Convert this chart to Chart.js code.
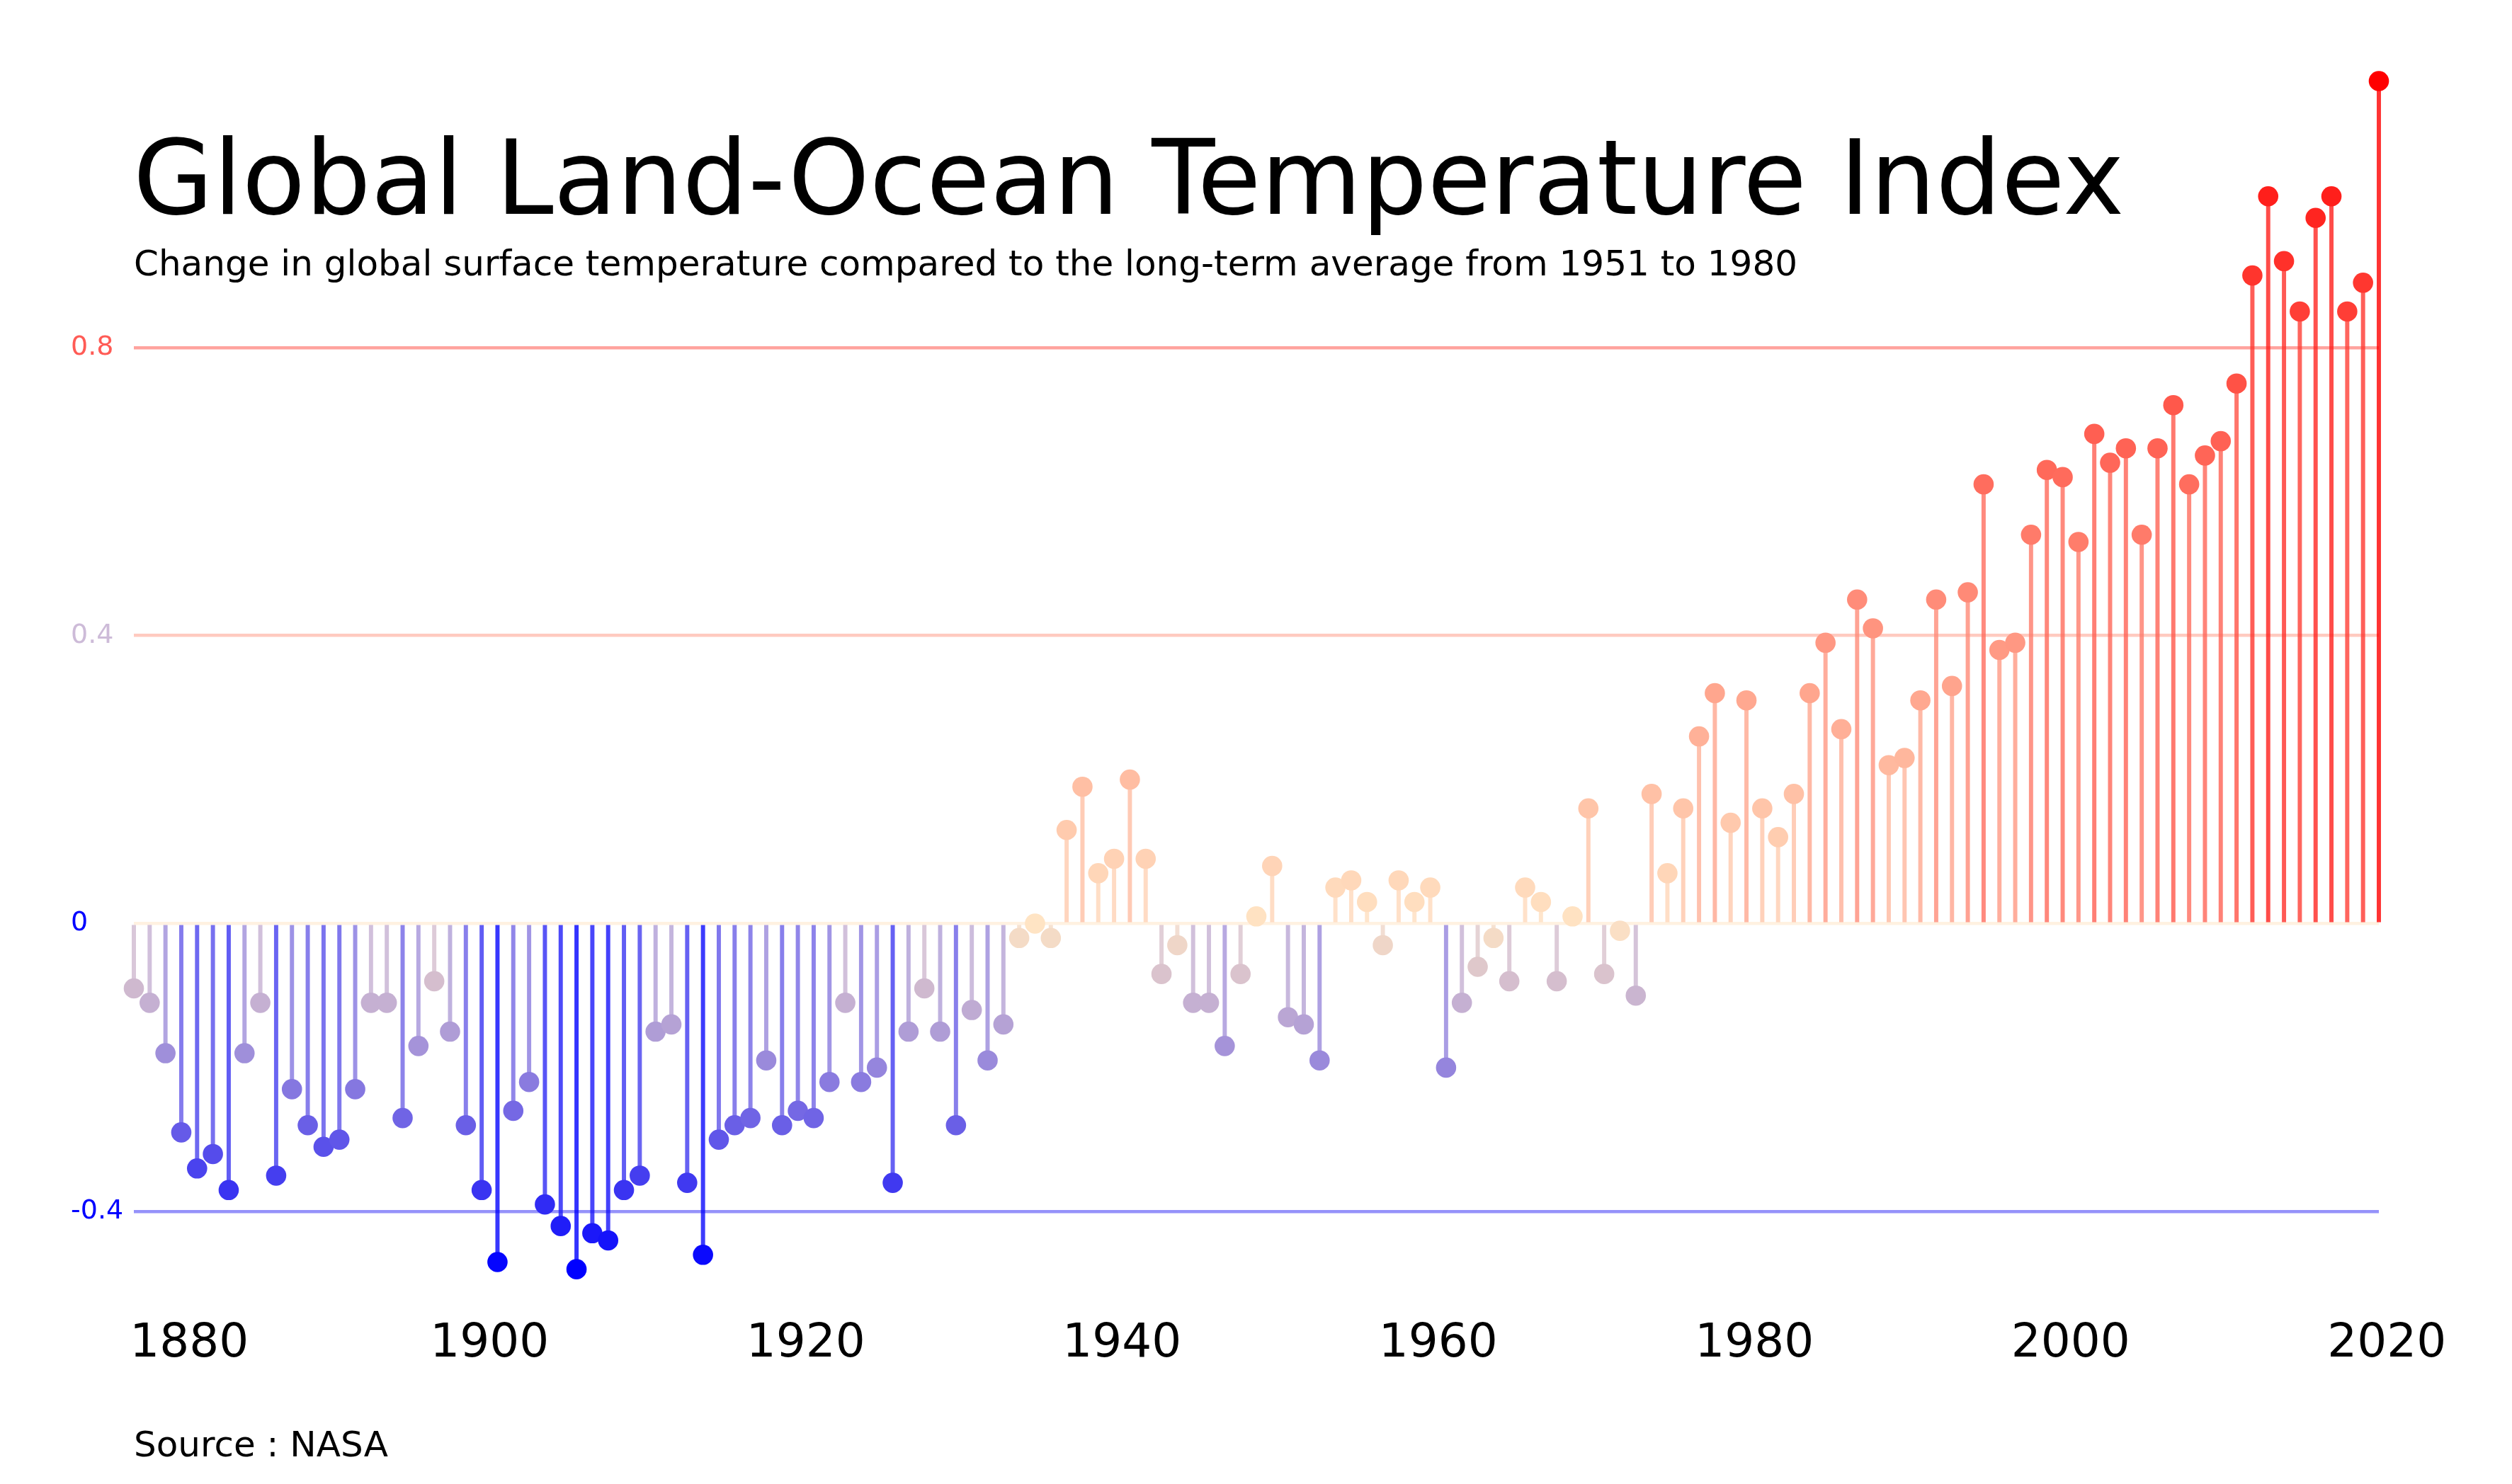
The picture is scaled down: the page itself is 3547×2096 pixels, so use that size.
<!DOCTYPE html>
<html>
<head>
<meta charset="utf-8">
<title>Global Land-Ocean Temperature Index</title>
<script src="https://cdn.jsdelivr.net/npm/chart.js@4.4.1/dist/chart.umd.min.js"></script>
<style>
  html, body { margin: 0; padding: 0; background: #fff; overflow: hidden; }
  #wrap { position: relative; width: 3547px; height: 2096px; font-family: 'DejaVu Sans', sans-serif; }
  #chart { position: absolute; left: 0; top: 0; }
  .txt { position: absolute; white-space: nowrap; line-height: 1; color: #000; }
  #title { left: 188px; top: 178px; font-size: 146px; }
  #subtitle { left: 189px; top: 347px; font-size: 50px; }
  #source { left: 189px; top: 2015px; font-size: 50px; }
</style>
</head>
<body>
<div id="wrap">
  <canvas id="chart" width="3547" height="2096"></canvas>
  <div class="txt" id="title">Global Land-Ocean Temperature Index</div>
  <div class="txt" id="subtitle">Change in global surface temperature compared to the long-term average from 1951 to 1980</div>
  <div class="txt" id="source">Source : NASA</div>
</div>
<script>
// Annual anomaly (°C), 1881 to 2023
const firstYear = 1881;
const anomalies = [
  -0.09, -0.11, -0.18, -0.29, -0.34, -0.32, -0.37, -0.18, -0.11, -0.35,
  -0.23, -0.28, -0.31, -0.30, -0.23, -0.11, -0.11, -0.27, -0.17, -0.08,
  -0.15, -0.28, -0.37, -0.47, -0.26, -0.22, -0.39, -0.42, -0.48, -0.43,
  -0.44, -0.37, -0.35, -0.15, -0.14, -0.36, -0.46, -0.30, -0.28, -0.27,
  -0.19, -0.28, -0.26, -0.27, -0.22, -0.11, -0.22, -0.20, -0.36, -0.15,
  -0.09, -0.15, -0.28, -0.12, -0.19, -0.14, -0.02, 0.00, -0.02, 0.13,
  0.19, 0.07, 0.09, 0.20, 0.09, -0.07, -0.03, -0.11, -0.11, -0.17,
  -0.07, 0.01, 0.08, -0.13, -0.14, -0.19, 0.05, 0.06, 0.03, -0.03,
  0.06, 0.03, 0.05, -0.20, -0.11, -0.06, -0.02, -0.08, 0.05, 0.03,
  -0.08, 0.01, 0.16, -0.07, -0.01, -0.10, 0.18, 0.07, 0.16, 0.26,
  0.32, 0.14, 0.31, 0.16, 0.12, 0.18, 0.32, 0.39, 0.27, 0.45,
  0.41, 0.22, 0.23, 0.31, 0.45, 0.33, 0.46, 0.61, 0.38, 0.39,
  0.54, 0.63, 0.62, 0.53, 0.68, 0.64, 0.66, 0.54, 0.66, 0.72,
  0.61, 0.65, 0.67, 0.75, 0.90, 1.01, 0.92, 0.85, 0.98, 1.01,
  0.85, 0.89, 1.17
];
const years = anomalies.map((_, i) => firstYear + i);

// axis ticks
const tickYears = [1880, 1900, 1920, 1940, 1960, 1980, 2000, 2020];
const yTicks = [-0.4, 0, 0.4, 0.8];
const yTickColors = ['#0000ff', '#0000ff', '#cdbbd8', '#ff5b55'];

// diverging colour scale: blue -> bisque (at 0) -> red
const COLD = [0, 0, 255], NEUTRAL = [255, 228, 196], HOT = [255, 0, 0];
const vMin = Math.min(...anomalies), vMax = Math.max(...anomalies);

function tempColor(v, alpha = 1) {
    const end = v < 0 ? COLD : HOT;
    let t = v < 0 ? v / vMin : v / vMax;
    t = Math.max(0, Math.min(1, t));
    const c = NEUTRAL.map((m, k) => Math.round(m + (end[k] - m) * t));
    return `rgba(${c[0]}, ${c[1]}, ${c[2]}, ${alpha})`;
}

const points = years.map((yr, i) => ({ x: yr, y: anomalies[i] }));

Chart.defaults.font.family = "'DejaVu Sans', sans-serif";

const ctx = document.getElementById('chart').getContext('2d');
new Chart(ctx, {
    type: 'scatter',
    data: {
        datasets: [
            {
                // lollipop heads
                type: 'scatter',
                data: points,
                pointRadius: 14.3,
                pointHoverRadius: 14.3,
                pointBorderWidth: 0,
                pointBackgroundColor: anomalies.map(v => tempColor(v)),
                showLine: false,
                clip: false,
                order: 0
            },
            {
                // stems from zero
                type: 'bar',
                data: points,
                backgroundColor: anomalies.map(v => tempColor(v, 0.8)),
                borderWidth: 0,
                barThickness: 5.3,
                grouped: false,
                clip: false,
                order: 1
            }
        ]
    },
    options: {
        responsive: false,
        animation: false,
        events: [],
        layout: {
            padding: { left: 100, right: 188, top: 84, bottom: 133 }
        },
        plugins: {
            legend: { display: false },
            tooltip: { enabled: false }
        },
        scales: {
            x: {
                type: 'linear',
                min: firstYear,
                max: years[years.length - 1],
                offset: false,
                display: false
            },
            xLabels: {
                type: 'linear',
                axis: 'x',
                position: 'bottom',
                min: firstYear - 3.5,
                max: years[years.length - 1] - 3.5,
                // the first label is kept inside the plot, as in the reference
                afterBuildTicks: axis => {
                    axis.ticks = tickYears.map(v => ({ value: Math.max(v, axis.min + 3.5) }));
                },
                afterFit: axis => { axis.height = 150; },
                grid: { display: false, drawTicks: false },
                border: { display: false },
                ticks: {
                    autoSkip: false,
                    maxRotation: 0,
                    padding: 46,
                    color: '#000',
                    font: { size: 66 },
                    callback: (v, i) => String(tickYears[i])
                }
            },
            y: {
                type: 'linear',
                min: -0.5,
                max: 1.2,
                afterBuildTicks: axis => { axis.ticks = yTicks.map(v => ({ value: v })); },
                afterFit: axis => { axis.width = 89; },
                grid: {
                    drawTicks: false,
                    lineWidth: 4.5,
                    color: c => tempColor(c.tick.value, 0.5)
                },
                border: { display: false },
                ticks: {
                    crossAlign: 'far',
                    padding: 0,
                    font: { size: 38 },
                    color: c => yTickColors[yTicks.indexOf(c.tick.value)],
                    callback: v => (v === 0 ? '0' : String(v))
                }
            }
        }
    }
});
</script>
</body>
</html>
